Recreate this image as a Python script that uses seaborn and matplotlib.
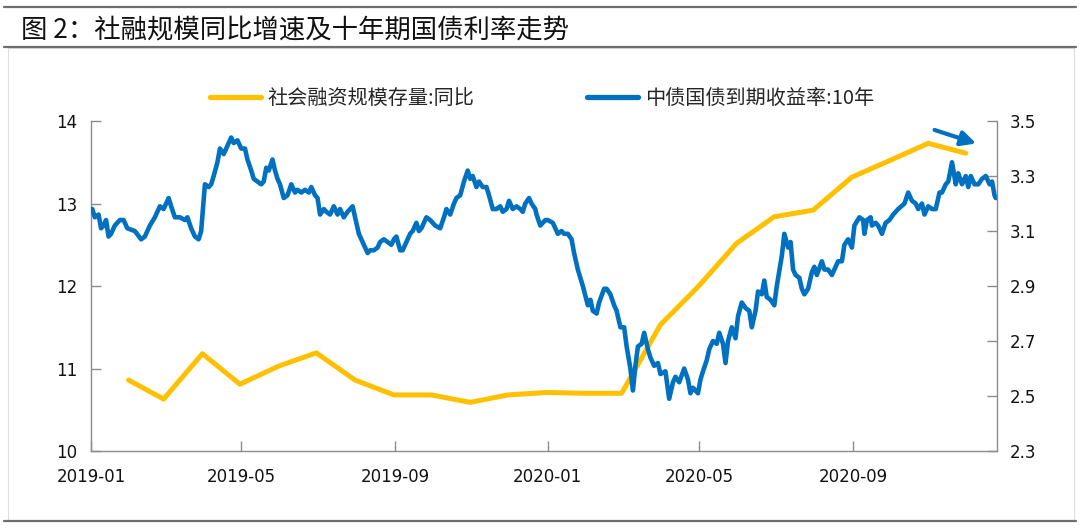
import matplotlib
matplotlib.use("Agg")
import numpy as np
import pandas as pd
import matplotlib.pyplot as plt
import matplotlib.dates as mdates
from matplotlib.lines import Line2D
from matplotlib.patches import Rectangle
from matplotlib.font_manager import FontProperties
import seaborn as sns

# ---------------- data ----------------
title = "图 2：社融规模同比增速及十年期国债利率走势"
tsf_label = "社会融资规模存量:同比"
yield_label = "中债国债到期收益率:10年"

# TSF stock yoy (%), month-end observations
tsf_month = ["2019-01", "2019-02", "2019-03", "2019-04", "2019-05", "2019-06",
             "2019-07", "2019-08", "2019-09", "2019-10", "2019-11", "2019-12",
             "2020-01", "2020-02", "2020-03", "2020-04", "2020-05", "2020-06",
             "2020-07", "2020-08", "2020-09", "2020-10", "2020-11"]
tsf_yoy = [10.86, 10.63, 11.18, 10.81, 11.03, 11.19,
           10.86, 10.68, 10.68, 10.59, 10.68, 10.71,
           10.70, 10.70, 11.53, 11.99, 12.52, 12.84,
           12.92, 13.32, 13.52, 13.73, 13.61]

# 10Y CGB yield (%), days since 2019-01-01
yield_start = "2019-01-01"
yield_day = [1, 3, 6, 8, 10, 12, 14, 16, 19, 23,
             26, 29, 35, 40, 43, 47, 51, 55, 58, 62,
             64, 67, 71, 75, 77, 80, 83, 86, 88, 91,
             94, 96, 98, 101, 103, 106, 109, 112, 114, 117,
             120, 123, 125, 128, 130, 133, 136, 138, 140, 142,
             145, 147, 149, 151, 154, 157, 160, 163, 165, 168,
             171, 174, 176, 179, 181, 183, 186, 188, 191, 194,
             197, 199, 202, 205, 209, 211, 214, 217, 219, 221,
             223, 226, 229, 231, 234, 237, 240, 242, 244, 247,
             249, 252, 255, 257, 260, 262, 264, 268, 271, 275,
             279, 282, 284, 287, 290, 292, 295, 298, 301, 303,
             305, 308, 310, 313, 316, 318, 321, 324, 327, 329,
             332, 334, 337, 340, 343, 345, 347, 350, 352, 355,
             356, 359, 361, 363, 365, 369, 373, 376, 378, 381,
             384, 386, 389, 393, 397, 399, 401, 404, 406, 410,
             412, 415, 418, 420, 423, 426, 428, 431, 433, 435,
             437, 440, 442, 445, 447, 450, 453, 455, 459, 462,
             465, 467, 470, 474, 477, 479, 481, 485, 487, 489,
             492, 494, 497, 500, 502, 505, 507, 509, 512, 515,
             517, 520, 523, 526, 528, 531, 533, 536, 538, 540,
             543, 546, 548, 552, 554, 557, 559, 561, 563, 566,
             568, 570, 573, 576, 578, 580, 584, 586, 589, 592,
             594, 597, 600, 602, 605, 608, 610, 614, 617, 618,
             620, 623, 624, 627, 629, 632, 635, 638, 641, 645,
             650, 653, 656, 659, 661, 664, 666, 669, 672, 675,
             678, 680, 683, 685, 688, 691, 693, 696, 699, 701,
             703, 706, 709, 712, 715, 718, 720, 722, 723]
yield_pct = [3.18, 3.15, 3.16, 3.11, 3.12, 3.14, 3.08, 3.09, 3.12, 3.14,
             3.14, 3.11, 3.10, 3.07, 3.08, 3.12, 3.15, 3.19, 3.18, 3.22,
             3.19, 3.15, 3.15, 3.14, 3.15, 3.11, 3.08, 3.07, 3.10, 3.27,
             3.26, 3.27, 3.30, 3.35, 3.40, 3.38, 3.41, 3.44, 3.42, 3.43,
             3.40, 3.40, 3.36, 3.32, 3.29, 3.28, 3.27, 3.28, 3.33, 3.32,
             3.36, 3.32, 3.29, 3.27, 3.22, 3.23, 3.27, 3.24, 3.25, 3.24,
             3.25, 3.24, 3.26, 3.23, 3.22, 3.16, 3.18, 3.17, 3.16, 3.19,
             3.16, 3.18, 3.15, 3.17, 3.19, 3.15, 3.09, 3.06, 3.04, 3.02,
             3.03, 3.03, 3.04, 3.06, 3.07, 3.06, 3.05, 3.07, 3.08, 3.03,
             3.03, 3.06, 3.09, 3.10, 3.13, 3.10, 3.11, 3.15, 3.14, 3.12,
             3.11, 3.15, 3.18, 3.16, 3.20, 3.22, 3.23, 3.28, 3.32, 3.29,
             3.30, 3.26, 3.28, 3.26, 3.26, 3.23, 3.18, 3.18, 3.19, 3.17,
             3.18, 3.21, 3.18, 3.19, 3.18, 3.17, 3.20, 3.22, 3.20, 3.18,
             3.16, 3.12, 3.13, 3.14, 3.14, 3.13, 3.09, 3.10, 3.09, 3.09,
             3.07, 3.02, 2.96, 2.90, 2.83, 2.85, 2.81, 2.80, 2.84, 2.89,
             2.89, 2.87, 2.83, 2.81, 2.75, 2.75, 2.68, 2.60, 2.52, 2.61,
             2.68, 2.69, 2.73, 2.67, 2.64, 2.61, 2.62, 2.58, 2.59, 2.49,
             2.55, 2.57, 2.55, 2.60, 2.56, 2.51, 2.53, 2.51, 2.56, 2.59,
             2.63, 2.67, 2.70, 2.69, 2.73, 2.69, 2.62, 2.70, 2.75, 2.71,
             2.79, 2.84, 2.82, 2.81, 2.75, 2.81, 2.88, 2.87, 2.92, 2.86,
             2.85, 2.83, 2.90, 3.01, 3.09, 3.04, 3.06, 2.96, 2.94, 2.93,
             2.89, 2.87, 2.89, 2.95, 2.97, 2.94, 2.99, 2.96, 2.96, 2.94,
             2.96, 2.99, 2.99, 3.05, 3.07, 3.04, 3.12, 3.15, 3.14, 3.09,
             3.14, 3.15, 3.12, 3.13, 3.12, 3.09, 3.13, 3.14, 3.16, 3.18,
             3.20, 3.24, 3.21, 3.20, 3.18, 3.20, 3.16, 3.19, 3.18, 3.18,
             3.24, 3.24, 3.27, 3.28, 3.35, 3.27, 3.31, 3.27, 3.30, 3.26,
             3.30, 3.27, 3.27, 3.29, 3.30, 3.27, 3.28, 3.23, 3.22]

left_ticks = [10, 11, 12, 13, 14]
right_ticks = [2.3, 2.5, 2.7, 2.9, 3.1, 3.3, 3.5]
x_start, x_end = "2019-01-01", "2020-12-25"

# ---------------- frames ----------------
tsf_df = pd.DataFrame({
    "date": pd.to_datetime(tsf_month) + pd.offsets.MonthEnd(0),
    "value": tsf_yoy,
})
yld_df = pd.DataFrame({
    "date": pd.Timestamp(yield_start) + pd.to_timedelta(yield_day, unit="D"),
    "value": yield_pct,
})

# ---------------- style ----------------
sns.set_theme(style="white")
plt.rcParams["font.family"] = ["DejaVu Sans"]
CJK = ["Noto Sans CJK SC", "DejaVu Sans"]
YELLOW = "#FFC000"
BLUE = "#0070C0"
GRAY = "#8C8C8C"

fig = plt.figure(figsize=(10.8, 5.3), dpi=100)
ax = fig.add_axes([0.0843, 0.149, 0.8389, 0.6226])
ax2 = ax.twinx()

sns.lineplot(data=tsf_df, x="date", y="value", ax=ax, color=YELLOW,
             linewidth=3.6, legend=False)
sns.lineplot(data=yld_df, x="date", y="value", ax=ax2, color=BLUE,
             linewidth=3.3, legend=False)
for a in (ax, ax2):
    for ln in a.get_lines():
        ln.set_solid_joinstyle("round")

ax.set_xlim(pd.Timestamp(x_start), pd.Timestamp(x_end))
ax.set_ylim(10, 14)
ax2.set_ylim(2.3, 3.5)
ax.set_yticks(left_ticks)
ax2.set_yticks(right_ticks)
ax2.yaxis.set_major_formatter(matplotlib.ticker.FormatStrFormatter("%.1f"))
ax.yaxis.set_major_formatter(matplotlib.ticker.FormatStrFormatter("%d"))
ax.xaxis.set_major_locator(mdates.MonthLocator(bymonth=[1, 5, 9]))
ax.xaxis.set_major_formatter(mdates.DateFormatter("%Y-%m"))
ax.set_xlabel("")
ax.set_ylabel("")
ax2.set_ylabel("")

for a in (ax, ax2):
    a.spines["top"].set_visible(False)
    for s in a.spines.values():
        s.set_color(GRAY)
        s.set_linewidth(1.0)
    a.grid(False)
ax.spines["right"].set_visible(False)
ax2.spines["left"].set_visible(False)
ax2.spines["bottom"].set_visible(False)

ax.tick_params(axis="y", direction="in", length=7, width=1, color=GRAY,
               labelsize=12, pad=10, labelcolor="#111111", left=True)
ax.tick_params(axis="x", direction="in", length=7, width=1, color=GRAY,
               labelsize=12, pad=12, labelcolor="#111111", bottom=True)
ax2.tick_params(axis="y", direction="in", length=7, width=1, color=GRAY,
                labelsize=12, pad=9, labelcolor="#111111", right=True)

# legend
handles = [Line2D([0], [0], color=YELLOW, lw=3.8),
           Line2D([0], [0], color=BLUE, lw=3.8)]
fig.legend(handles, [tsf_label, yield_label], loc="center",
           bbox_to_anchor=(0.502, 0.815), ncol=2, frameon=False,
           prop=FontProperties(family=CJK, size=14.5),
           handlelength=2.5, handletextpad=0.35, columnspacing=5.6)

# trend arrow
ax.annotate("", xy=(0.977, 0.932), xytext=(0.931, 0.973),
            xycoords="axes fraction", textcoords="axes fraction",
            arrowprops=dict(arrowstyle="-|>", color=BLUE, lw=3.0,
                            mutation_scale=22, shrinkA=0, shrinkB=0))

# title and frame lines
fig.text(0.019, 0.943, title, fontsize=19, family=CJK, ha="left",
         va="center", color="#111111")
fig.add_artist(Line2D([0.004, 0.996], [1 - 7 / 530] * 2,
                      transform=fig.transFigure, color="#6E6E6E", lw=1.6))
fig.add_artist(Line2D([0.004, 0.996], [1 - 47 / 530] * 2,
                      transform=fig.transFigure, color="#6E6E6E", lw=1.6))
fig.add_artist(Line2D([0.004, 0.996], [1 - 521 / 530] * 2,
                      transform=fig.transFigure, color="#6E6E6E", lw=1.6))
fig.add_artist(Rectangle((0.007, 1 - 521 / 530), 0.987, (521 - 48) / 530,
                         transform=fig.transFigure, fill=False,
                         edgecolor="#DDDDDD", lw=0.8))

fig.savefig("out.png", dpi=100)
